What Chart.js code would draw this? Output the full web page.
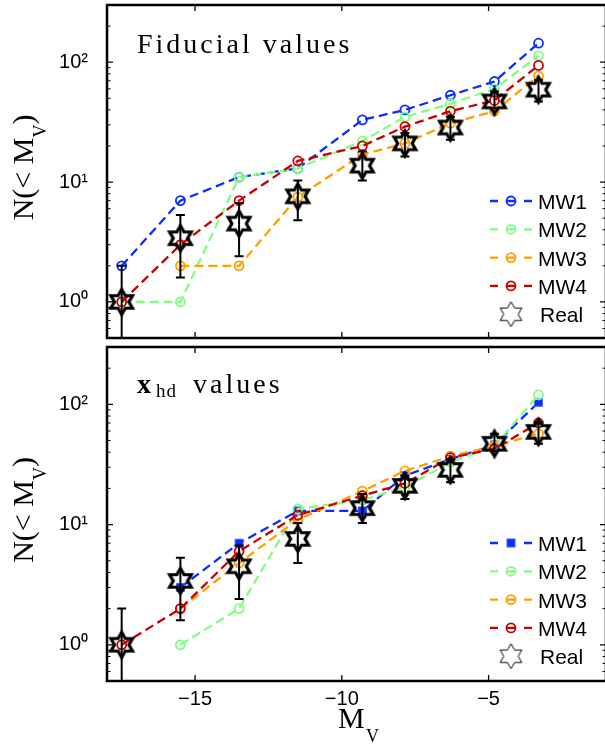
<!DOCTYPE html>
<html><head><meta charset="utf-8">
<script src="https://cdn.jsdelivr.net/npm/chart.js@4.4.1/dist/chart.umd.min.js"></script>
<style>
html,body{margin:0;padding:0;background:#fff;overflow:hidden;width:605px;height:746px;}
#wrap{position:relative;width:605px;height:746px;overflow:hidden;background:#fff;}
canvas{position:absolute;left:0;}
#c1{top:0;} #c2{top:342px;}
</style></head><body>
<div id="wrap"><canvas id="c1" width="608" height="342"></canvas><canvas id="c2" width="608" height="404"></canvas></div>
<script>
// ---- data ----
const mv = [-17.5, -15.5, -13.5, -11.5, -9.3, -7.85, -6.3, -4.8, -3.3];
const realN  = [1, 3.4, 4.5, 7.6, 13.7, 21, 28.5, 47, 59];
const realHi = [2, 5.3, 6.7, 10.3, 18, 25.6, 35, 57, 71];
const realLo = [0, 1.6, 2.4, 4.8, 10.3, 16.3, 22.5, 41, 47];
const fidMW1 = [2, 7, 11, 13, 33, 40, 53, 69, 144];
const fidMW2 = [1, 1, 11, 13, 22, 35, 45, 60, 113];
const fidMW3 = [null, 2, 2, 7.5, 17, 21, 31, 39, 77];
const fidMW4 = [1, 3, 7, 15, 20, 29, 39, 48, 94];
const hdMW1 = [null, 3, 7, 13, 13, 25.5, 35, 46, 104];
const hdMW2 = [null, 1, 2, 13.5, 16, 20.5, 33, 45, 120];
const hdMW3 = [null, 2, 4.8, 11, 19, 28, 37, 45, 57];
const hdMW4 = [1, 2, 6, 12, 17.4, 22, 36, 42.7, 70];
const seriesNames = ['MW1', 'MW2', 'MW3', 'MW4', 'Real'];
const xTicks = [-15, -10, -5];
const xTickLabels = ['\u221215', '\u221210', '\u22125'];
const yTicks = [1, 10, 100];
const yTickLabels = ['10\u2070', '10\u00b9', '10\u00b2'];
const yMinorTicks = [0.5,0.6,0.7,0.8,0.9,2,3,4,5,6,7,8,9,20,30,40,50,60,70,80,90,200,300];
const panelTitles = ['Fiducial values', 'values'];

// ---- styles ----
const colors = ['#0b2dff', '#80ff80', '#ffa000', '#c80000'];
const SANS = '"Liberation Sans", Arial, sans-serif';
const SERIF = '"Liberation Serif", "Times New Roman", serif';

function hexagram(R, lw, fill) {
  const s = Math.ceil(2 * R + lw * 2 + 4);
  const c = document.createElement('canvas'); c.width = s; c.height = s;
  const g = c.getContext('2d'); const cx = s / 2, cy = s / 2; const r = R / Math.sqrt(3);
  g.beginPath();
  for (let i = 0; i < 12; i++) {
    const a = -Math.PI / 2 + i * Math.PI / 6; const rr = i % 2 === 0 ? R : r;
    const x = cx + rr * Math.cos(a), y = cy + rr * Math.sin(a);
    i ? g.lineTo(x, y) : g.moveTo(x, y);
  }
  g.closePath();
  if (fill) { g.fillStyle = fill; g.fill(); }
  g.lineJoin = 'miter'; g.lineWidth = lw; g.strokeStyle = '#000'; g.stroke();
  return c;
}
const starPlot = hexagram(12.5, 3.2, null);
const starLegend = hexagram(12.5, 1, '#fff');

function drawMarker(ctx, style, color, x, y) {
  ctx.save(); ctx.setLineDash([]);
  if (style === 'rect') {
    ctx.fillStyle = color; ctx.strokeStyle = '#4060ff'; ctx.lineWidth = 1;
    ctx.fillRect(x - 4, y - 4, 8, 8); ctx.strokeRect(x - 4, y - 4, 8, 8);
  } else {
    ctx.strokeStyle = color; ctx.lineWidth = 1.8;
    ctx.beginPath(); ctx.arc(x, y, 4.5, 0, Math.PI * 2); ctx.stroke();
  }
  ctx.restore();
}

function makePanel(canvasId, mwData, markers, isBottom) {
  const datasets = mwData.map((vals, k) => ({
    type: 'line', label: seriesNames[k],
    data: mv.map((x, i) => ({ x: x, y: vals[i] })),
    borderColor: colors[k], backgroundColor: 'rgba(0,0,0,0)',
    borderWidth: 2.3, borderDash: [9, 5], fill: false, tension: 0, spanGaps: false,
    pointStyle: markers[k], pointRadius: markers[k] === 'rect' ? 5.6 : 4.5,
    pointHoverRadius: markers[k] === 'rect' ? 5.6 : 4.5,
    pointBorderWidth: markers[k] === 'rect' ? 1 : 1.8,
    pointBorderColor: markers[k] === 'rect' ? '#4060ff' : colors[k],
    pointBackgroundColor: markers[k] === 'rect' ? colors[k] : 'rgba(0,0,0,0)',
    order: 10 - k
  }));
  datasets.push({
    type: 'line', label: seriesNames[4],
    data: mv.map((x, i) => ({ x: x, y: realN[i] })),
    showLine: false, pointStyle: starPlot, pointRadius: 12, pointHoverRadius: 12,
    borderColor: '#000', backgroundColor: 'rgba(0,0,0,0)', order: 1
  });

  const decor = {
    id: 'decor' + canvasId,
    afterDatasetsDraw(chart) {
      const ctx = chart.ctx, ca = chart.chartArea, xs = chart.scales.x, ys = chart.scales.y;
      ctx.save();
      ctx.beginPath(); ctx.rect(ca.left, ca.top, ca.right - ca.left, ca.bottom - ca.top); ctx.clip();
      ctx.strokeStyle = '#000'; ctx.lineWidth = 2; ctx.setLineDash([]);
      mv.forEach((m, i) => {
        const x = xs.getPixelForValue(m);
        const yh = ys.getPixelForValue(realHi[i]);
        const yl = realLo[i] > 0 ? ys.getPixelForValue(realLo[i]) : ca.bottom + 5;
        ctx.beginPath(); ctx.moveTo(x, yh); ctx.lineTo(x, yl);
        ctx.moveTo(x - 4.5, yh); ctx.lineTo(x + 4.5, yh);
        if (realLo[i] > 0) { ctx.moveTo(x - 4.5, yl); ctx.lineTo(x + 4.5, yl); }
        ctx.stroke();
      });
      ctx.restore();
    },
    afterDraw(chart) {
      const ctx = chart.ctx, ca = chart.chartArea, xs = chart.scales.x, ys = chart.scales.y;
      ctx.save(); ctx.setLineDash([]);
      ctx.strokeStyle = '#000'; ctx.lineWidth = 2.5;
      ctx.strokeRect(ca.left, ca.top, ca.right - ca.left, ca.bottom - ca.top);
      ctx.lineWidth = 1.3;
      ctx.beginPath();
      xTicks.forEach(v => { const x = xs.getPixelForValue(v);
        ctx.moveTo(x, ca.bottom); ctx.lineTo(x, ca.bottom - 6);
        ctx.moveTo(x, ca.top); ctx.lineTo(x, ca.top + 6); });
      yTicks.forEach(v => { const y = ys.getPixelForValue(v);
        ctx.moveTo(ca.left, y); ctx.lineTo(ca.left + 6, y);
        ctx.moveTo(ca.right, y); ctx.lineTo(ca.right - 6, y); });
      ctx.stroke();
      ctx.lineWidth = 1;
      ctx.beginPath();
      yMinorTicks.forEach(v => { const y = ys.getPixelForValue(v);
        ctx.moveTo(ca.left, y); ctx.lineTo(ca.left + 3.5, y);
        ctx.moveTo(ca.right, y); ctx.lineTo(ca.right - 3.5, y); });
      ctx.stroke();

      ctx.fillStyle = '#000'; ctx.textAlign = 'left'; ctx.textBaseline = 'alphabetic';
      if (!isBottom) {
        ctx.font = '28px ' + SERIF; ctx.letterSpacing = '3px';
        ctx.fillText(panelTitles[0], 137, 53);
        ctx.letterSpacing = '0px';
      } else {
        ctx.font = 'bold 28px ' + SERIF; ctx.fillText('x', 137, 51);
        ctx.font = '19px ' + SERIF; ctx.letterSpacing = '1px'; ctx.fillText('hd', 156, 55);
        ctx.font = '28px ' + SERIF; ctx.letterSpacing = '3px'; ctx.fillText(panelTitles[1], 193, 51);
        ctx.letterSpacing = '0px';
      }

      ctx.save();
      const cy = (ca.top + ca.bottom) / 2 - 4;
      ctx.translate(33, cy); ctx.rotate(-Math.PI / 2);
      ctx.font = '30px ' + SERIF; const w1 = ctx.measureText('N(< M').width; const w3 = ctx.measureText(')').width;
      ctx.font = '18px ' + SERIF; const w2 = ctx.measureText('V').width;
      let tx = -(w1 + w2 + w3) / 2;
      ctx.font = '30px ' + SERIF; ctx.fillText('N(< M', tx, 0); tx += w1;
      ctx.font = '18px ' + SERIF; ctx.fillText('V', tx, 13); tx += w2;
      ctx.font = '30px ' + SERIF; ctx.fillText(')', tx, 0);
      ctx.restore();

      if (isBottom) {
        ctx.font = '30px ' + SERIF; ctx.fillText('M', 338, 386);
        ctx.font = '18px ' + SERIF; ctx.fillText('V', 366, 400);
      }

      const lx0 = 490, lxm = 511, lx1 = 532, ltx = 538;
      const ly0 = 201, ldy = 28.3;
      for (let k = 0; k < 4; k++) {
        const y = ly0 + k * ldy;
        ctx.strokeStyle = colors[k]; ctx.lineWidth = 2.3;
        ctx.beginPath(); ctx.moveTo(lx0, y); ctx.lineTo(lx0 + 8, y);
        ctx.moveTo(lxm - 4, y); ctx.lineTo(lxm + 4, y);
        ctx.moveTo(lx1 - 8, y); ctx.lineTo(lx1, y); ctx.stroke();
        drawMarker(ctx, markers[k], colors[k], lxm, y);
        ctx.fillStyle = '#000'; ctx.font = '21px ' + SANS;
        ctx.fillText(seriesNames[k], ltx, y + 8);
      }
      const yr = ly0 + 4 * ldy;
      ctx.drawImage(starLegend, lxm - starLegend.width / 2, yr - starLegend.height / 2);
      ctx.fillStyle = '#000'; ctx.font = '21px ' + SANS;
      ctx.fillText(seriesNames[4], 540, yr + 8);
      ctx.restore();
    }
  };

  return new Chart(document.getElementById(canvasId), {
    type: 'line',
    data: { datasets: datasets },
    plugins: [decor],
    options: {
      responsive: false, animation: false, devicePixelRatio: 1,
      layout: { autoPadding: false, padding: { left: 0, right: 2, top: 5, bottom: 0 } },
      plugins: { legend: { display: false }, tooltip: { enabled: false } },
      scales: {
        x: {
          type: 'linear', min: -18, max: -1,
          grid: { display: false, drawTicks: false }, border: { display: false },
          afterBuildTicks: s => { s.ticks = xTicks.map(v => ({ value: v })); },
          ticks: { display: isBottom, autoSkip: false, maxRotation: 0, padding: 6, color: '#000',
                   font: { family: SANS, size: 20 }, callback: (v, i) => xTickLabels[i] },
          afterFit: s => { s.height = isBottom ? 65 : 4; s.paddingLeft = 0; s.paddingRight = 0; }
        },
        y: {
          type: 'logarithmic', min: 0.5, max: 300,
          grid: { display: false, drawTicks: false }, border: { display: false },
          afterBuildTicks: s => { s.ticks = yTicks.map(v => ({ value: v })); },
          ticks: { autoSkip: false, padding: 19, color: '#000',
                   font: { family: SANS, size: 20 }, callback: (v, i) => yTickLabels[i] },
          afterFit: s => { s.width = 107; s.paddingTop = 0; s.paddingBottom = 0; }
        }
      }
    }
  });
}

makePanel('c1', [fidMW1, fidMW2, fidMW3, fidMW4], ['circle', 'circle', 'circle', 'circle'], false);
makePanel('c2', [hdMW1, hdMW2, hdMW3, hdMW4], ['rect', 'circle', 'circle', 'circle'], true);
</script>
</body></html>
